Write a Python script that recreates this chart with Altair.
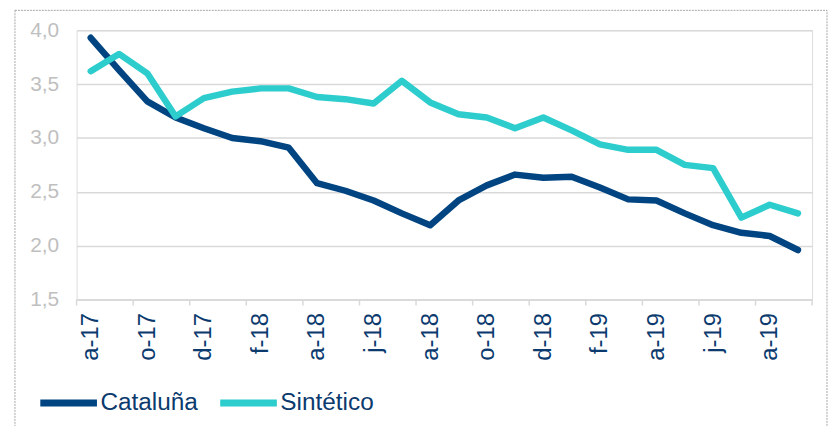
import altair as alt
import pandas as pd

# Monthly categories Aug 2017 .. Sep 2019 (Spanish initials)
meses = ["a-17", "s-17", "o-17", "n-17", "d-17", "e-18", "f-18", "m-18", "a-18", "m-18",
         "j-18", "j-18", "a-18", "s-18", "o-18", "n-18", "d-18", "e-19", "f-19", "m-19",
         "a-19", "m-19", "j-19", "j-19", "a-19", "s-19"]
cataluna = [3.93, 3.63, 3.34, 3.19, 3.09, 3.00, 2.97, 2.91, 2.58, 2.51, 2.42, 2.30, 2.19,
            2.42, 2.56, 2.66, 2.63, 2.64, 2.54, 2.43, 2.42, 2.30, 2.19, 2.12, 2.09, 1.96]
sintetico = [3.62, 3.78, 3.60, 3.20, 3.37, 3.43, 3.46, 3.46, 3.38, 3.36, 3.32, 3.53, 3.33,
             3.22, 3.19, 3.09, 3.19, 3.07, 2.94, 2.89, 2.89, 2.75, 2.72, 2.26, 2.38, 2.30]
series = ["Cataluña", "Sintético"]
colores = ["#004481", "#2DCCCD"]
y_ticks = [1.5, 2.0, 2.5, 3.0, 3.5, 4.0]

n = len(meses)
rows = []
for i in range(n):
    rows.append({"idx": i, "serie": series[0], "valor": cataluna[i]})
for i in range(n):
    rows.append({"idx": i, "serie": series[1], "valor": sintetico[i]})
df = pd.DataFrame(rows)

label_values = list(range(0, n, 2))
edges = pd.DataFrame({"edge": [i - 0.5 for i in range(0, n + 1, 2)]})
label_array = "[" + ",".join("'" + m + "'" for m in meses) + "]"

FONT = "Liberation Sans"
NAVY = "#0b3a6e"
GRID = "#d9d9d9"

xscale = alt.Scale(domain=[-0.5, n - 0.5], nice=False, zero=False)

lines = alt.Chart(df).mark_line(strokeWidth=6.5, strokeCap="round", strokeJoin="round").encode(
    x=alt.X("idx:Q", scale=xscale,
            axis=alt.Axis(values=label_values, labelExpr=label_array + "[datum.value]",
                          labelAngle=-90, labelFontSize=24, labelColor=NAVY, labelFont=FONT,
                          labelPadding=13, ticks=False, grid=False, domain=True,
                          domainColor=GRID, domainWidth=1.5, title=None)),
    y=alt.Y("valor:Q", scale=alt.Scale(domain=[1.5, 4.0], nice=False, zero=False),
            axis=alt.Axis(values=y_ticks,
                          labelExpr="replace(format(datum.value, '.1f'), '.', ',')",
                          labelFontSize=21, labelColor="#bfbfbf", labelFont=FONT,
                          labelPadding=18, ticks=False, domain=False, grid=True,
                          gridColor=GRID, gridWidth=1.5, title=None)),
    color=alt.Color("serie:N", scale=alt.Scale(domain=series, range=colores),
                    legend=alt.Legend(orient="none", legendX=-40, legendY=343,
                                      direction="horizontal", title=None,
                                      symbolType="stroke", symbolSize=3249,
                                      symbolStrokeWidth=7, labelFontSize=24.5,
                                      labelColor=NAVY, labelFont=FONT, labelOffset=0,
                                      columnPadding=7)),
    order=alt.Order("idx:Q"),
)

ticks = alt.Chart(edges).mark_rule(color=GRID, strokeWidth=1.5).encode(
    x=alt.X("edge:Q", scale=xscale),
    y=alt.value(271),
    y2=alt.value(277),
)

border = alt.Chart(pd.DataFrame({"a": [0]})).mark_rect(
    fillOpacity=0, stroke="#a6a6a6", strokeDash=[2, 1], strokeWidth=1
).encode(
    x=alt.value(-62), x2=alt.value(755), y=alt.value(-20), y2=alt.value(460)
)

chart = alt.layer(border, ticks, lines).properties(
    width=740, height=271,
    autosize=alt.AutoSizeParams(type="none"),
    padding={"left": 69, "top": 21, "right": 16, "bottom": 150},
).configure_view(stroke=None).configure(background="white")

chart.save("out.html", embed_options={"renderer": "svg", "actions": False})
